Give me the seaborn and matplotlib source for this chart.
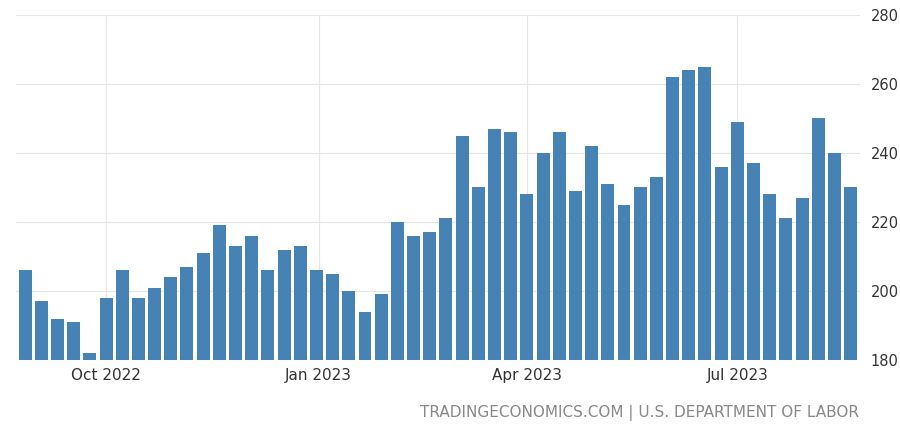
import pandas as pd
import seaborn as sns
import matplotlib.pyplot as plt

sns.set_theme(style="white")

start = pd.Timestamp("2022-08-27")
claims = [206, 197, 192, 191, 182, 198, 206, 198, 201, 204, 207, 211, 219, 213, 216, 206,
          212, 213, 206, 205, 200, 194, 199, 220, 216, 217, 221, 245, 230, 247, 246, 228,
          240, 246, 229, 242, 231, 225, 230, 233, 262, 264, 265, 236, 249, 237, 228, 221,
          227, 250, 240, 230]
tick_dates = ["2022-10-01", "2023-01-01", "2023-04-01", "2023-07-01"]
tick_labels = ["Oct 2022", "Jan 2023", "Apr 2023", "Jul 2023"]

df = pd.DataFrame({"week": range(len(claims)), "claims": claims})

fig = plt.figure(figsize=(9, 4.26), dpi=100)
ax = fig.add_axes([0.018, 0.155, 0.937, 0.81])
sns.barplot(data=df, x="week", y="claims", color="#4682b4", saturation=1, width=0.8,
            edgecolor="none", ax=ax)

ticks = [(pd.Timestamp(d) - start).days / 7 for d in tick_dates]
ax.set_xticks(ticks)
ax.set_xticklabels(tick_labels, fontsize=11, color="#333333")
ax.set_xlim(-0.55, len(claims) - 0.45)
ax.set_ylim(180, 280)
ax.set_yticks(range(180, 281, 20))
ax.yaxis.tick_right()
ax.tick_params(axis="y", labelsize=10.5, colors="#333333", length=0, pad=8)
ax.tick_params(axis="x", length=0, pad=6)
ax.grid(True, color="#e6e6e6", linewidth=0.8)
ax.set_axisbelow(True)
for s in ax.spines.values():
    s.set_visible(False)
ax.set_xlabel("")
ax.set_ylabel("")

fig.text(0.955, 0.02, "TRADINGECONOMICS.COM | U.S. DEPARTMENT OF LABOR",
         ha="right", fontsize=11, color="#888888")
fig.savefig("out.png")
